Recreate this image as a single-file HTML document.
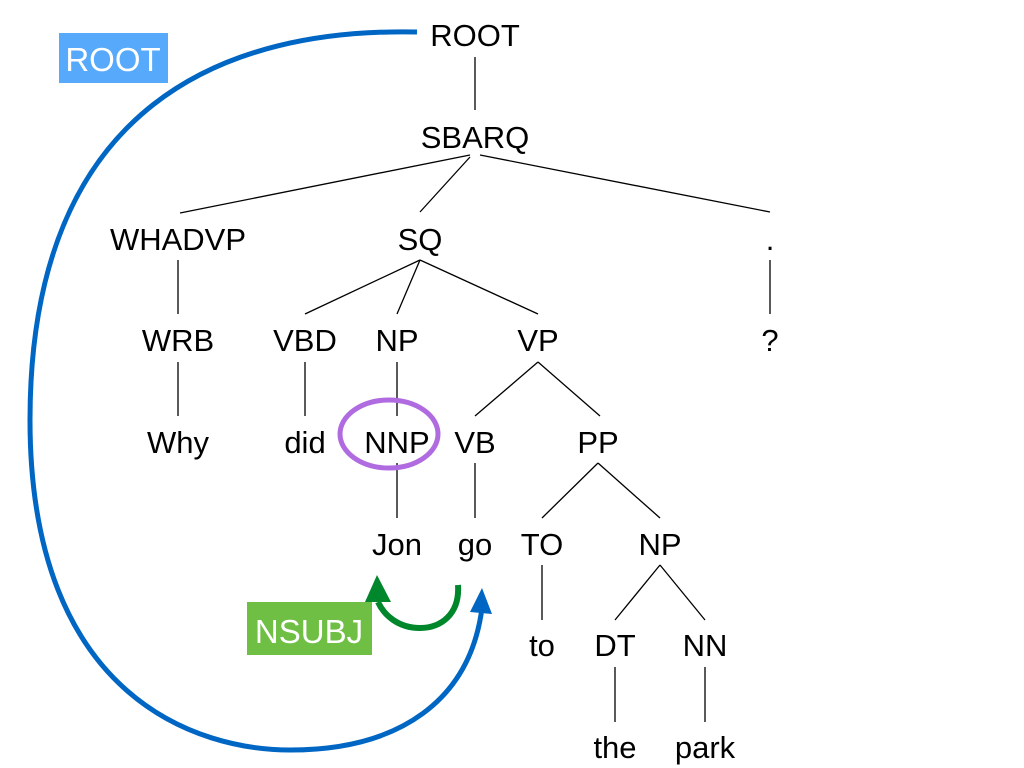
<!DOCTYPE html>
<html><head><style>
html,body{margin:0;padding:0;background:#fff;}
svg{display:block}
text{font-family:"Liberation Sans",sans-serif;font-size:31px;fill:#000;text-anchor:middle}
</style></head><body>
<svg width="1024" height="768" viewBox="0 0 1024 768">
<g stroke="#000" stroke-width="1.3" fill="none">
<line x1="475" y1="57" x2="475" y2="110"/>
<line x1="470" y1="155" x2="180" y2="213"/>
<line x1="470" y1="157" x2="420" y2="212"/>
<line x1="480" y1="155" x2="770" y2="212"/>
<line x1="178" y1="260" x2="178" y2="314"/>
<line x1="770" y1="260" x2="770" y2="314"/>
<line x1="420" y1="260" x2="305" y2="314"/>
<line x1="420" y1="260" x2="397" y2="314"/>
<line x1="420" y1="260" x2="538" y2="314"/>
<line x1="178" y1="362" x2="178" y2="416"/>
<line x1="305" y1="362" x2="305" y2="416"/>
<line x1="397" y1="362" x2="397" y2="416"/>
<line x1="538" y1="362" x2="475" y2="416"/>
<line x1="538" y1="362" x2="600" y2="416"/>
<line x1="397" y1="463" x2="397" y2="518"/>
<line x1="475" y1="463" x2="475" y2="518"/>
<line x1="598" y1="463" x2="542" y2="518"/>
<line x1="598" y1="463" x2="660" y2="518"/>
<line x1="542" y1="565" x2="542" y2="620"/>
<line x1="660" y1="565" x2="615" y2="620"/>
<line x1="660" y1="565" x2="705" y2="620"/>
<line x1="615" y1="667" x2="615" y2="722"/>
<line x1="705" y1="667" x2="705" y2="722"/>
</g>
<g>
<text x="475" y="46">ROOT</text>
<text x="475" y="148">SBARQ</text>
<text x="178" y="250">WHADVP</text>
<text x="420" y="250">SQ</text>
<text x="770" y="250">.</text>
<text x="178" y="351">WRB</text>
<text x="305" y="351">VBD</text>
<text x="397" y="351">NP</text>
<text x="538" y="351">VP</text>
<text x="770" y="351">?</text>
<text x="178" y="453">Why</text>
<text x="305" y="453">did</text>
<text x="397" y="453">NNP</text>
<text x="475" y="453">VB</text>
<text x="598" y="453">PP</text>
<text x="397" y="555">Jon</text>
<text x="475" y="555">go</text>
<text x="542" y="555">TO</text>
<text x="660" y="555">NP</text>
<text x="542" y="656">to</text>
<text x="615" y="656">DT</text>
<text x="705" y="656">NN</text>
<text x="615" y="758">the</text>
<text x="705" y="758">park</text>
</g>
<ellipse cx="389" cy="434" rx="49" ry="34" fill="none" stroke="#b06be0" stroke-width="5"/>
<path d="M417 32 C 230 28, 30 100, 30 420 C 30 700, 200 750, 290 750 C 400 750, 470 700, 482 608" fill="none" stroke="#0066c4" stroke-width="5"/>
<polygon points="482,588 470,612 492,614" fill="#0066c4"/>
<path d="M458 585 C 460 615, 440 628, 420 628 C 398 628, 384 615, 378 602" fill="none" stroke="#00862b" stroke-width="6"/>
<polygon points="377,575 365,602 391,602" fill="#00862b"/>
<rect x="59" y="33" width="109" height="50" fill="#56a9fb"/>
<text x="113" y="71" style="fill:#fff;font-size:33px">ROOT</text>
<rect x="247" y="602" width="125" height="53" fill="#6fbf45"/>
<text x="309" y="643" style="fill:#fff;font-size:33px">NSUBJ</text>
</svg>
</body></html>
